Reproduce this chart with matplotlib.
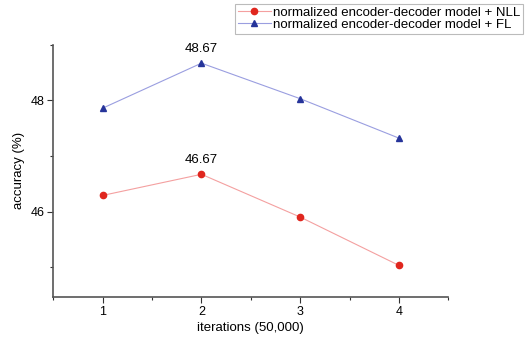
import matplotlib
matplotlib.use("Agg")
import matplotlib.pyplot as plt
from matplotlib.ticker import MultipleLocator

# data
iterations = [1, 2, 3, 4]
acc_nll = [46.29, 46.67, 45.90, 45.03]
acc_fl = [47.86, 48.67, 48.03, 47.32]
label_nll = "normalized encoder-decoder model + NLL"
label_fl = "normalized encoder-decoder model + FL"

plt.rcParams['font.family'] = ['Liberation Sans', 'DejaVu Sans']

fig = plt.figure(figsize=(5.27, 3.37), dpi=100)
ax = fig.add_axes([0.101, 0.12, 0.750, 0.747])

ax.plot(iterations, acc_nll, color="#f4a0a0", linewidth=0.8, marker='o', markersize=4.5,
        markerfacecolor="#e0261e", markeredgecolor="#e0261e", label=label_nll)
ax.plot(iterations, acc_fl, color="#9a9ee0", linewidth=0.8, marker='^', markersize=5,
        markerfacecolor="#26349a", markeredgecolor="#26349a", label=label_fl)

# value labels on the peak points
ax.annotate("%.2f" % acc_fl[1], (iterations[1], acc_fl[1]), xytext=(0, 6),
            textcoords='offset points', ha='center', va='bottom', fontsize=9.5)
ax.annotate("%.2f" % acc_nll[1], (iterations[1], acc_nll[1]), xytext=(0, 6),
            textcoords='offset points', ha='center', va='bottom', fontsize=9.5)

ax.set_xlim(0.5, 4.5)
ax.set_ylim(44.47, 49.0)
ax.xaxis.set_major_locator(MultipleLocator(1))
ax.xaxis.set_minor_locator(MultipleLocator(0.5))
ax.yaxis.set_major_locator(MultipleLocator(2))
ax.yaxis.set_minor_locator(MultipleLocator(1))
ax.tick_params(which='major', length=4, width=0.8, labelsize=9, pad=2.5, color="#333333")
ax.tick_params(which='minor', length=2.5, width=0.8, color="#333333")

for side in ['top', 'right']:
    ax.spines[side].set_visible(False)
for side in ['left', 'bottom']:
    ax.spines[side].set_color("#555555")
    ax.spines[side].set_linewidth(1.2)

ax.set_xlabel("iterations (50,000)", fontsize=9.5, labelpad=3)
ax.set_ylabel("accuracy (%)", fontsize=9.5, labelpad=4)

lgd = fig.legend(loc='upper right', bbox_to_anchor=(1.0, 1.0), fontsize=9.5, frameon=True,
                 fancybox=False, handlelength=2.5, handletextpad=0.2, borderpad=0.2,
                 labelspacing=0.0, borderaxespad=0.3)
lgd.get_frame().set_edgecolor("#aaaaaa")
lgd.get_frame().set_linewidth(0.8)

fig.savefig("out.png", dpi=100)
